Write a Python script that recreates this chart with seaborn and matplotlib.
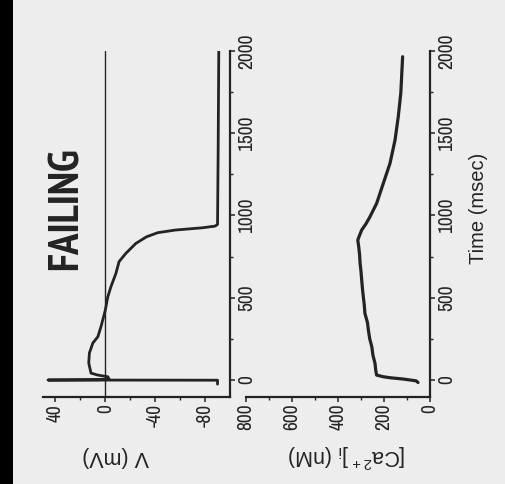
import matplotlib
matplotlib.use("Agg")

import matplotlib.pyplot as plt
from matplotlib.patches import Rectangle
import pandas as pd
import seaborn as sns

# ─── DATA ────────────────────────────────────────────────────────
# membrane potential trace
v_time = [-25, -1, 0, 2, 6, 20, 30, 42, 103, 164, 225, 263, 324, 425, 506,
          567, 648, 719, 770, 830, 870, 895, 911, 925, 935, 945, 1400, 2000]
v_mv   = [-90, -90, 46, 5, -3, -2, 6, 11.5, 13.3, 12.8, 10, 6, 3.5, 0, -2,
          -4.5, -8.5, -11, -16.5, -24.5, -33, -42, -56, -78, -88, -90, -90.5, -91]

# calcium transient
ca_time = [-15, -5, 6, 14, 20, 30, 60, 101, 150, 202, 250, 304, 350, 405, 460,
           506, 560, 608, 660, 709, 760, 810, 850, 880, 911, 950, 992, 1073,
           1195, 1316, 1458, 1600, 1742, 1964]
ca_nm   = [52, 60, 116, 174, 203, 232, 236, 239, 248, 253, 262, 268, 272, 283, 286,
           290, 294, 297, 300, 304, 306, 310, 314, 306, 297, 278, 261, 232,
           203, 174, 152, 138, 127, 119]

time_ticks = [0, 500, 1000, 1500, 2000]
time_minor = [250, 750, 1250, 1750]
v_ticks    = [40, 0, -40, -80]
v_minor    = [20, -20, -60]
ca_ticks   = [800, 600, 400, 200, 0]
ca_minor   = [700, 500, 300, 100]

# ─── STYLE ───────────────────────────────────────────────────────
BG  = "#ededed"
INK = "#232323"
NARROW  = ["Archivo Narrow", "Liberation Sans", "DejaVu Sans"]
HEAVY   = ["PT Sans Narrow", "Roboto Condensed", "Liberation Sans", "DejaVu Sans"]
REGULAR = ["Liberation Sans", "DejaVu Sans"]

sns.set_style("ticks")
plt.rcParams.update({
    "font.family": REGULAR,
    "axes.unicode_minus": False,
    "mathtext.default": "regular",
    "axes.edgecolor": INK, "xtick.color": INK, "ytick.color": INK,
    "text.color": INK, "axes.labelcolor": INK,
})

W, H = 506, 484
fig = plt.figure(figsize=(W / 100, H / 100), dpi=100, facecolor=BG)
fig.patches.append(Rectangle((0, 0), 13 / W, 1, transform=fig.transFigure,
                             facecolor="black", edgecolor="none", zorder=0))

def px_axes(left, right, top, bottom):
    return fig.add_axes([left / W, 1 - bottom / H, (right - left) / W, (bottom - top) / H])

ax_v = px_axes(43, 230, 50.8, 396.5)
ax_c = px_axes(246, 430, 50.8, 396.5)

v_df  = pd.DataFrame({"t": v_time, "v": v_mv})
ca_df = pd.DataFrame({"t": ca_time, "ca": ca_nm})

ax_v.axvline(0, color=INK, lw=1.0, zorder=1)
sns.lineplot(data=v_df, x="v", y="t", sort=False, estimator=None, orient="y",
             color=INK, lw=2.0, ax=ax_v)
sns.lineplot(data=ca_df, x="ca", y="t", sort=False, estimator=None, orient="y",
             color=INK, lw=2.3, ax=ax_c)

ax_v.set_xlim(50, -100)
ax_v.set_xticks(v_ticks)
ax_v.set_xticks(v_minor, minor=True)
ax_c.set_xlim(800, 0)
ax_c.set_xticks(ca_ticks)
ax_c.set_xticks(ca_minor, minor=True)

for ax in (ax_v, ax_c):
    ax.set_facecolor("none")
    ax.set_ylim(-100, 2000)
    ax.set_yticks(time_ticks)
    ax.set_yticks(time_minor, minor=True)
    ax.yaxis.tick_right()
    ax.spines["left"].set_visible(False)
    ax.spines["top"].set_visible(False)
    ax.spines["right"].set_visible(True)
    for s in ("bottom", "right"):
        ax.spines[s].set_linewidth(1.6)
    ax.tick_params(which="major", length=3.8, width=1.1, pad=1.5, labelsize=14)
    ax.tick_params(which="minor", length=2.2, width=1.0)
    ax.tick_params(axis="x", labelrotation=90)
    ax.tick_params(axis="y", labelrotation=90)
    for lab in ax.get_xticklabels() + ax.get_yticklabels():
        lab.set_family(NARROW)
    for lab in ax.get_yticklabels():
        lab.set_va("center")
    ax.set_xlabel("")
    ax.set_ylabel("")

# axis titles (whole figure is turned a quarter turn)
ax_v.set_xlabel("V (mV)", rotation=180, fontsize=15.5, va="center", ha="center")
ax_v.xaxis.set_label_coords((116 - 43) / 187, -(456 - 396.5) / 345.7)
ax_c.set_xlabel("[Ca$^{2+}$]$_i$ (nM)", rotation=180, fontsize=15.5, va="center", ha="center")
ax_c.xaxis.set_label_coords((347 - 246) / 184, -(456 - 396.5) / 345.7)
ax_c.yaxis.set_label_position("right")
ax_c.set_ylabel("Time (msec)", rotation=90, fontsize=14.5, va="center", ha="center")
ax_c.yaxis.set_label_coords((479 - 246) / 184, (396.5 - 208) / 345.7)

fig.text(67 / W, 1 - 208.5 / H, "FAILING", rotation=90, ha="center", va="center",
         fontsize=31, fontweight="bold", family=HEAVY)

fig.savefig("out.png", dpi=100, facecolor=BG)
